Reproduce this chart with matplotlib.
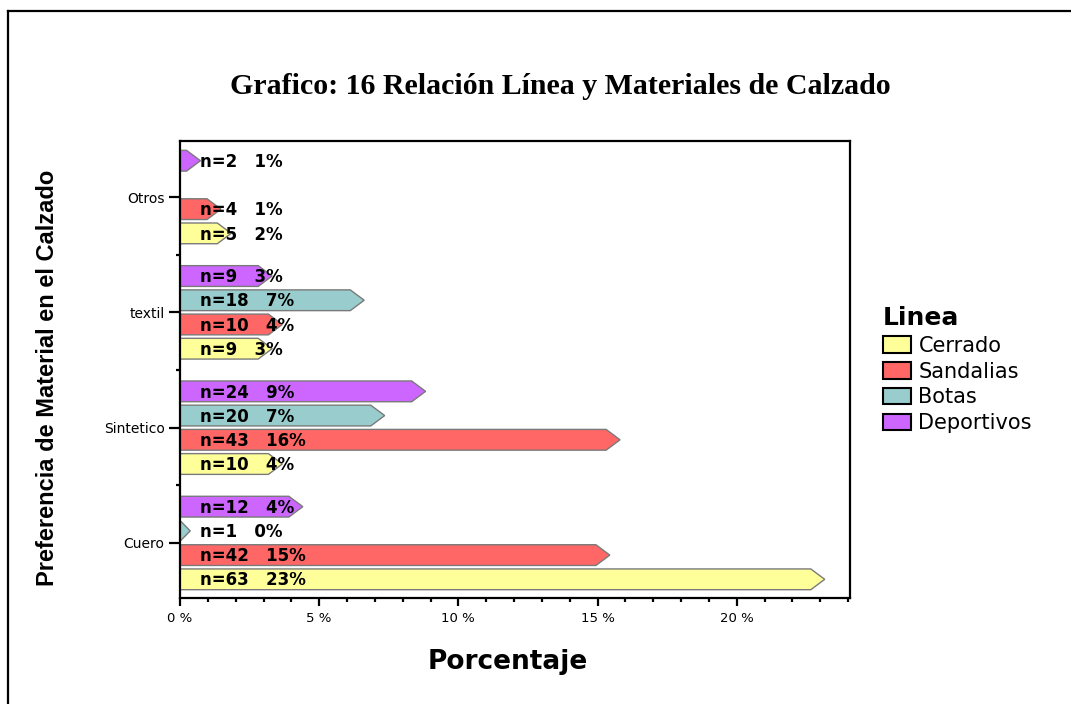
import numpy as np
import matplotlib
matplotlib.use("Agg")
import matplotlib.pyplot as plt
from matplotlib.patches import Polygon, Patch
from matplotlib.lines import Line2D
from matplotlib.ticker import FixedLocator, MultipleLocator

# --- data -----------------------------------------------------------------
materials = ["Cuero", "Sintetico", "textil", "Otros"]
lineas = ["Cerrado", "Sandalias", "Botas", "Deportivos"]
colors = ["#FFFF99", "#FF6666", "#99CCCC", "#CC66FF"]

# number of cases per material, one list per shoe line (0 = no cases)
cerrado = [63, 10, 9, 5]
sandalias = [42, 43, 10, 4]
botas = [1, 20, 18, 0]
deportivos = [12, 24, 9, 2]
total = 272

x_ticks = [0, 5, 10, 15, 20]
x_tick_labels = ["0 %", "5 %", "10 %", "15 %", "20 %"]

series = [cerrado, sandalias, botas, deportivos]

# --- figure ---------------------------------------------------------------
W, H = 1071, 704
fig = plt.figure(figsize=(W / 100, H / 100), dpi=100)
fig.patch.set_facecolor("white")

ax = fig.add_axes([180 / W, 1 - 598 / H, 670 / W, 457 / H])
ax.set_xlim(0, 24.07)
ax.set_ylim(-0.477, 3.486)

slot = 0.21
bar_h = 0.18
tip = 0.5
label_x = 0.72

for j, (counts, color) in enumerate(zip(series, colors)):
    off = (j - 1.5) * slot
    for i, n in enumerate(counts):
        if n == 0:
            continue
        v = n / total * 100
        y = i + off
        x1 = max(v - tip, 0)
        pts = [(0, y - bar_h / 2), (x1, y - bar_h / 2), (v, y),
               (x1, y + bar_h / 2), (0, y + bar_h / 2)]
        ax.add_patch(Polygon(pts, closed=True, facecolor=color,
                             edgecolor="#7a7a7a", linewidth=1.0, zorder=2))
        ax.text(label_x, y - 0.01, f"n={n}   {v:.0f}%", fontsize=12,
                fontweight="bold", family="DejaVu Sans", color="black",
                ha="left", va="center", zorder=3)

# axes styling
for s in ax.spines.values():
    s.set_linewidth(1.6)
    s.set_color("black")

ax.xaxis.set_major_locator(FixedLocator(x_ticks))
ax.set_xticklabels(x_tick_labels)
ax.xaxis.set_minor_locator(MultipleLocator(1))
ax.yaxis.set_major_locator(FixedLocator(range(len(materials))))
ax.set_yticklabels(materials)
ax.yaxis.set_minor_locator(FixedLocator([0.5, 1.5, 2.5]))

ax.tick_params(axis="x", which="major", direction="out", length=6,
               width=1.6, labelsize=9.5, pad=4)
ax.tick_params(axis="x", which="minor", direction="out", length=2.8,
               width=1.6)
ax.tick_params(axis="y", which="major", direction="out", length=8,
               width=1.6, labelsize=10, pad=3)
ax.tick_params(axis="y", which="minor", direction="out", length=3,
               width=1.6)
for lab in ax.get_xticklabels() + ax.get_yticklabels():
    lab.set_family("DejaVu Sans")

ax.set_ylabel("Preferencia de Material en el Calzado", fontsize=17,
              fontweight="bold", family="Liberation Sans")
ax.yaxis.set_label_coords(-0.18, 0.4825)
ax.set_xlabel("Porcentaje", fontsize=19, fontweight="bold",
              family="DejaVu Sans")
ax.xaxis.set_label_coords(0.4896, -0.112)

# legend
handles = [Patch(facecolor=c, edgecolor="black", linewidth=1.5) for c in colors]
leg = ax.legend(handles, lineas, title="Linea", loc="upper left",
                bbox_to_anchor=(883 / W, 1 - 306 / H),
                bbox_transform=fig.transFigure, frameon=False,
                prop={"family": "DejaVu Sans", "size": 15},
                title_fontproperties={"family": "DejaVu Sans", "size": 18,
                                      "weight": "bold"},
                handlelength=1.35, handleheight=0.82, handletextpad=0.35,
                labelspacing=0.28, borderpad=0, borderaxespad=0,
                alignment="left")

# title
fig.text(560 / W, 1 - 87 / H,
         "Grafico: 16 Relación Línea y Materiales de Calzado",
         family="Liberation Serif", fontweight="bold", fontsize=21.5,
         ha="center", va="center")

# page frame
fx, fy = 8 / W, 1 - 11 / H
fig.add_artist(Line2D([fx, fx], [0, fy], transform=fig.transFigure,
                      color="black", linewidth=1.6))
fig.add_artist(Line2D([fx, 1], [fy, fy], transform=fig.transFigure,
                      color="black", linewidth=1.6))

fig.savefig("out.png", dpi=100)
